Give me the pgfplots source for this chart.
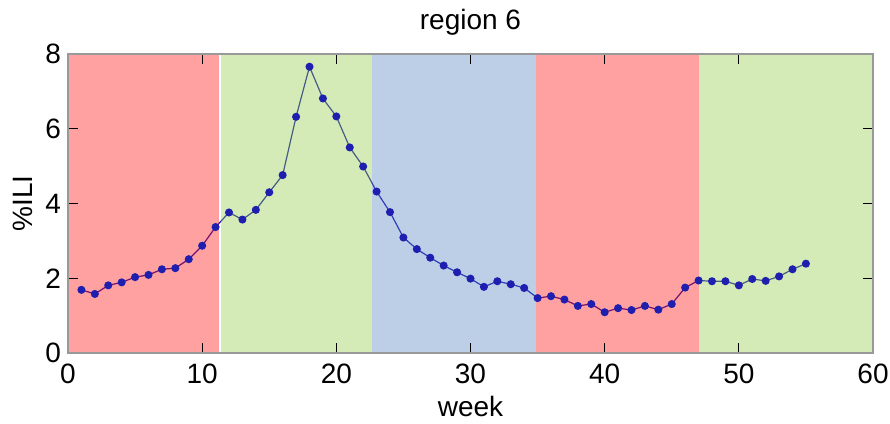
\documentclass[border=0pt]{standalone}
\usepackage{pgfplots}
\pgfplotsset{compat=1.18}
\usepackage{fontspec}
\setmainfont{Liberation Sans}

\definecolor{bandred}{RGB}{255,0,0}
\definecolor{bandgreen}{RGB}{140,200,60}
\definecolor{bandblue}{RGB}{75,125,190}
\definecolor{ili}{RGB}{30,30,175}

\pgfplotstableread{
week ili
1 1.69
2 1.58
3 1.81
4 1.89
5 2.03
6 2.09
7 2.24
8 2.27
9 2.51
10 2.87
11 3.37
12 3.76
13 3.57
14 3.83
15 4.30
16 4.76
17 6.32
18 7.66
19 6.81
20 6.33
21 5.50
22 4.99
23 4.32
24 3.77
25 3.09
26 2.78
27 2.55
28 2.34
29 2.16
30 1.99
31 1.77
32 1.92
33 1.84
34 1.74
35 1.47
36 1.52
37 1.43
38 1.26
39 1.31
40 1.09
41 1.20
42 1.15
43 1.26
44 1.16
45 1.31
46 1.75
47 1.94
48 1.92
49 1.92
50 1.81
51 1.98
52 1.93
53 2.05
54 2.24
55 2.39
}\iliTable

\begin{document}
\begin{tikzpicture}
\begin{axis}[
    scale only axis,
    width=402.5pt, height=149.5pt,
    xmin=0, xmax=60, ymin=0, ymax=8,
    xtick={0,10,...,60}, ytick={0,2,...,8},
    tick align=inside, tick pos=both,
    major tick length=5pt,
    every tick/.style={black, line width=0.6pt},
    axis line style={draw=gray!80, line width=1.3pt},
    axis on top,
    font=\fontsize{14}{16}\selectfont,
    /pgf/number format/assume math mode=true,
    ticklabel style={font=\fontsize{14}{16}\selectfont},
    title={region 6},
    title style={at={(0.5,1)}, anchor=south, yshift=0pt},
    xlabel={week},
    ylabel={\%ILI},
    xlabel style={at={(0.5,0)}, anchor=north, yshift=-18pt},
    ylabel style={at={(0,0.5)}, anchor=south, yshift=14pt},
    xticklabel style={yshift=-2pt},
]
\addplot[color=ili, line width=0.6pt, mark=*, mark size=1.7pt,
    mark options={fill=ili, draw=ili}] table[x=week, y=ili] {\iliTable};

\addplot[draw=none, fill=bandred, fill opacity=0.37] coordinates {(0,8) (11.27,8)} \closedcycle;
\addplot[draw=none, fill=bandgreen, fill opacity=0.37] coordinates {(11.42,8) (22.68,8)} \closedcycle;
\addplot[draw=none, fill=bandblue, fill opacity=0.37] coordinates {(22.68,8) (34.9,8)} \closedcycle;
\addplot[draw=none, fill=bandred, fill opacity=0.37] coordinates {(34.9,8) (47.05,8)} \closedcycle;
\addplot[draw=none, fill=bandgreen, fill opacity=0.37] coordinates {(47.05,8) (60,8)} \closedcycle;
\end{axis}
\pgfresetboundingbox
\path[use as bounding box] ([shift={(-34pt,-35pt)}]current axis.south west)
    rectangle ([shift={(8.5pt,27pt)}]current axis.north east);
\end{tikzpicture}
\end{document}
